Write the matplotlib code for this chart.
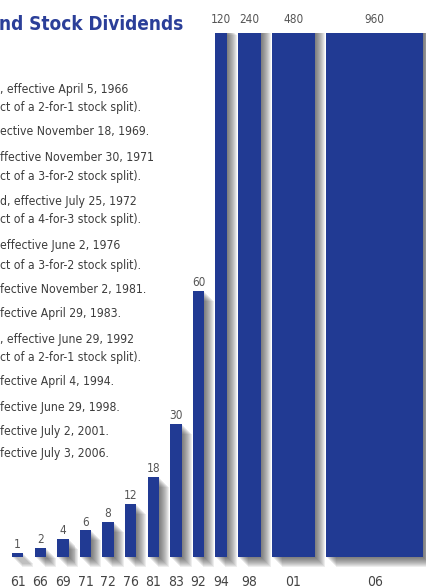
import matplotlib
matplotlib.use('Agg')
import matplotlib.pyplot as plt
import matplotlib.patheffects as pe
from matplotlib import font_manager as fm

# data
years = ['61', '66', '69', '71', '72', '76', '81', '83', '92', '94', '98', '01', '06']
dividends = [1, 2, 4, 6, 8, 12, 18, 30, 60, 120, 240, 480, 960]

title = 'nd Stock Dividends'
note_lines = [
    ', effective April 5, 1966',
    'ct of a 2-for-1 stock split).',
    'ective November 18, 1969.',
    'ffective November 30, 1971',
    'ct of a 3-for-2 stock split).',
    'd, effective July 25, 1972',
    'ct of a 4-for-3 stock split).',
    'effective June 2, 1976',
    'ct of a 3-for-2 stock split).',
    'fective November 2, 1981.',
    'fective April 29, 1983.',
    ', effective June 29, 1992',
    'ct of a 2-for-1 stock split).',
    'fective April 4, 1994.',
    'fective June 29, 1998.',
    'fective July 2, 2001.',
    'fective July 3, 2006.',
]

# layout
W, H = 427, 588
bar_widths = [1] * 10 + [2, 3.8, 8.6]
note_y = [89, 107, 132, 158, 177, 202, 220, 246, 265, 290, 313, 339, 357, 382, 407, 432, 454]
blue = '#213a93'


# pick a narrow font if one is installed (plain "condensed" first)
def narrow_font(bold):
    rank = {'condensed': 0, 'extra-condensed': 1, 'semi-condensed': 2}
    best, best_rank = None, 99
    for f in fm.fontManager.ttflist:
        if f.style != 'normal':
            continue
        r = rank.get(f.stretch, 99)
        if r == 99 and ('Narrow' in f.name or 'Narrow' in f.fname):
            r = 0
        if r == 99:
            continue
        w = f.weight if isinstance(f.weight, int) else (700 if f.weight == 'bold' else 400)
        if bold and not 600 <= w <= 750:
            continue
        if not bold and w != 400:
            continue
        if r < best_rank:
            best, best_rank = f, r
    if best is None:
        return fm.FontProperties(family='DejaVu Sans', weight='bold' if bold else 'normal')
    return fm.FontProperties(fname=best.fname)


reg = narrow_font(False)
bld = narrow_font(True)

fig = plt.figure(figsize=(W / 100, H / 100), dpi=100)

unit = 11.3      # px per x unit
ypx = 4.43       # px per dividend unit
ax = fig.add_axes([0, 0, 1, 1 - 33 / H])
ax.set_xlim(-12 / unit, (W - 12) / unit)
ax.set_ylim(-(H - 557) / ypx, (557 - 33) / ypx)
ax.set_frame_on(False)
ax.set_yticks([])

lefts = []
pos = 0
for w in bar_widths:
    lefts.append(pos)
    pos += w + 1
centers = [l + w / 2 for l, w in zip(lefts, bar_widths)]

shadow = [pe.SimplePatchShadow(offset=(k * 0.72, -k * 0.72), shadow_rgbFace='0.2', alpha=0.085)
          for k in range(1, 11)]
bars = ax.bar(lefts, dividends, width=bar_widths, align='edge', color=blue, linewidth=0)
for b in bars:
    b.set_path_effects(shadow + [pe.Normal()])

top = ax.get_ylim()[1]
for c, v in zip(centers, dividends):
    if v < top:
        ax.annotate(str(v), (c, v), xytext=(0, 6), textcoords='offset points',
                    ha='center', va='center', fontproperties=reg, fontsize=8.5, color='#555555')
    else:
        ax.annotate(str(v), (c, top), xytext=(0, 9.5), textcoords='offset points',
                    ha='center', va='center', fontproperties=reg, fontsize=8.5, color='#555555',
                    annotation_clip=False)

ax.set_xticks(centers, years)
ax.tick_params(axis='x', length=0, pad=-9.5)
for t in ax.get_xticklabels():
    t.set_fontproperties(reg)
    t.set_fontsize(10)
    t.set_color('#444444')

fig.text(-1 / W, 1 - 24 / H, title, ha='left', va='center', fontproperties=bld,
         fontsize=13.6, color='#2b3f99')
for s, y in zip(note_lines, note_y):
    fig.text(0, 1 - y / H, s, ha='left', va='center', fontproperties=reg,
             fontsize=8.7, color='#3c3c3c')

fig.savefig('out.png', dpi=100)
